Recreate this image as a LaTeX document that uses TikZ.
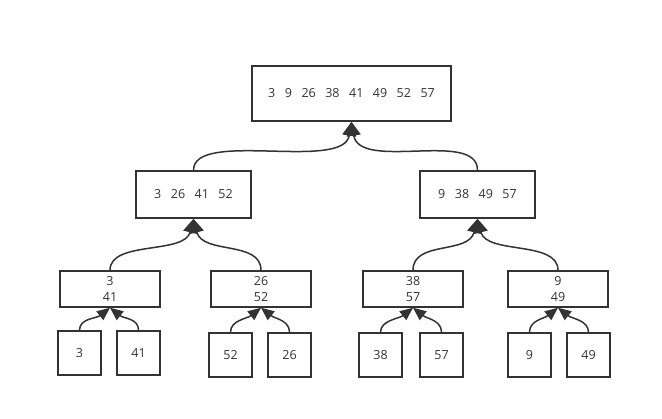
\documentclass[tikz,border=0pt]{standalone}
\usepackage{fontspec}
\setmainfont{Open Sans}
\usetikzlibrary{arrows.meta}
\definecolor{ink}{HTML}{333333}
\newcommand{\gap}{\hspace{9.5pt}}

\begin{document}
\begin{tikzpicture}[x=1pt,y=-1pt,font=\fontsize{12.5}{16}\selectfont,
    box/.style={draw=ink,line width=1.5pt,inner sep=0pt,align=center,text=ink},
    leaf/.style={box,minimum width=43pt,minimum height=44pt},
    pair/.style={box,minimum width=100pt,minimum height=36pt},
    half/.style={box,minimum width=115pt,minimum height=47pt},
    merge/.style={draw=ink,line width=1.5pt,-{Triangle[length=14pt,width=14pt]}},
    small/.style={draw=ink,line width=1.5pt,-{Triangle[length=13pt,width=11pt]}}]
  \useasboundingbox (0,0) rectangle (662,419);
  % sorted result
  \node[box,minimum width=199pt,minimum height=55pt] (all) at (351.5,93.5)
    {3\gap9\gap26\gap38\gap41\gap49\gap52\gap57};
  % halves
  \node[half] (hA) at (193.5,194.5) {3\gap26\gap41\gap52};
  \node[half] (hB) at (477.5,194.5) {9\gap38\gap49\gap57};
  % pairs
  \foreach \name/\top/\bot/\x in {pA/3/41/110, pB/26/52/261, pC/38/57/413, pD/9/49/558}
    \node[pair] (\name) at (\x,289) {\top\\\bot};
  % single elements
  \foreach \name/\val/\x/\y in {eA/3/79.5/353, eB/41/138.5/353, eC/52/230.5/355, eD/26/289.5/355,
                                eE/38/380.5/355, eF/57/441.5/355, eG/9/529.5/355, eH/49/588.5/355}
    \node[leaf] (\name) at (\x,\y) {\val};
  % merge arrows
  \draw[merge] (hA.north) .. controls +(0,-41) and +(-8,50) .. (all.south);
  \draw[merge] (hB.north) .. controls +(0,-41) and +(8,50) .. (all.south);
  \foreach \child/\parent/\dx in {pA/hA/-9, pB/hA/9, pC/hB/-9, pD/hB/9}
    \draw[merge] (\child.north) .. controls +(0,-30) and +(\dx,36) .. (\parent.south);
  \foreach \child/\parent/\dx in {eA/pA/-14, eB/pA/14, eC/pB/-14, eD/pB/14,
                                  eE/pC/-14, eF/pC/14, eG/pD/-14, eH/pD/14}
    \draw[small] (\child.north) .. controls +(0,-12) and +(\dx,11) .. (\parent.south);
\end{tikzpicture}
\end{document}
